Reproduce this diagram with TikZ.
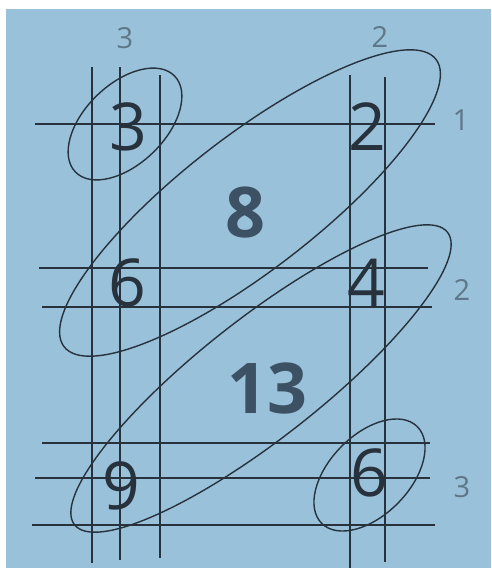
\documentclass[tikz,border=0pt]{standalone}
\usepackage{fontspec}
\setmainfont{Open Sans}
\usepackage{xcolor}
\definecolor{matbg}{HTML}{99C1DA}
\definecolor{matink}{HTML}{27323C}
\definecolor{matslate}{HTML}{3C5163}
\definecolor{matgrey}{HTML}{5E7789}
\usetikzlibrary{calc}
\tikzset{
  matline/.style={draw=matink,line width=2pt},
  matloop/.style={draw=matink,line width=1.4pt},
  matdigit/.style={inner sep=0pt,text=matink,font=\fontsize{66}{66}\selectfont},
  matbold/.style={inner sep=0pt,text=matslate,font=\fontsize{70}{70}\selectfont\bfseries},
  matindex/.style={inner sep=0pt,text=matgrey,font=\fontsize{29}{29}\selectfont},
}

\begin{document}
\begin{tikzpicture}[x=1pt,y=-1pt]
\useasboundingbox (0,0) rectangle (491,568);
\fill[white] (0,0) rectangle (491,568);
\fill[matbg] (6,9) rectangle (491,568);
% grid lines
\foreach \x/\a/\b in {92/67/563,120/67/560,160/75/558,350/75/568,385/77/562}
  \draw[matline] (\x,\a) -- (\x,\b);
\foreach \y/\a/\b in {124/35/435,268/39/428,307/42/432,443/42/430,478/35/430,525/32/435}
  \draw[matline] (\a,\y) -- (\b,\y);
% indices
\node[matindex] (c1) at (125,38) {3};
\node[matindex] (c2) at (380,37) {2};
\node[matindex] (r1) at (461,120) {1};
\node[matindex] (r2) at (462,290) {2};
\node[matindex] (r3) at (462,487) {3};
% entries
\node[matdigit] (a11) at (128,127) {3};
\node[matdigit] (a12) at (367,127) {2};
\node[matdigit] (a21) at (127,283) {6};
\node[matdigit] (a22) at (366,283) {4};
\node[matdigit] (a31) at (121,486) {9};
\node[matdigit] (a32) at (369,473) {6};
\node[matbold] (s1) at (245,213) {8};
\node[matbold] (s2) at (267,388) {13};
% loops
\draw[matloop,rotate around={44:(125,124)}] (125,124) ellipse [x radius=69,y radius=40];
\draw[matloop,rotate around={37.7:(250,203)}] (250,203) ellipse [x radius=235,y radius=67];
\draw[matloop,rotate around={38.1:(261,378.5)}] (261,378.5) ellipse [x radius=237,y radius=60];
\draw[matloop,rotate around={45.5:(369.5,475)}] (369.5,475) ellipse [x radius=68,y radius=40];
\end{tikzpicture}
\end{document}
